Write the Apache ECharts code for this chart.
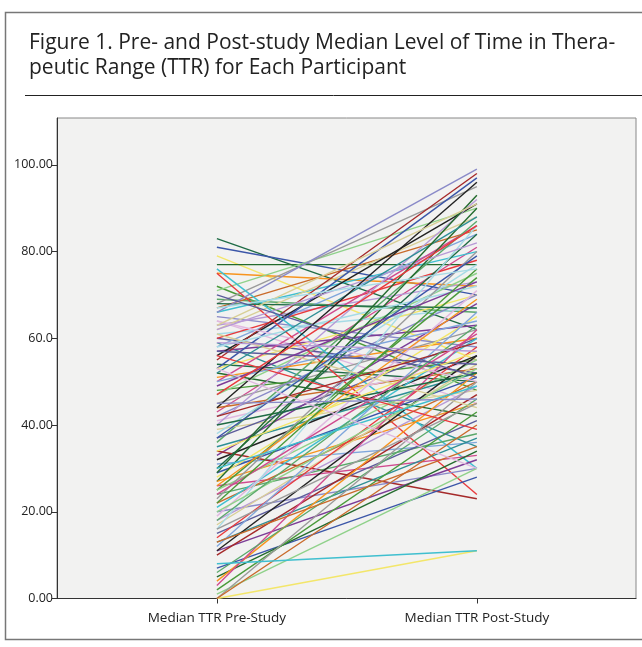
<!DOCTYPE html>
<html>
<head>
<meta charset="utf-8">
<script src="https://cdn.jsdelivr.net/npm/echarts@6/dist/echarts.min.js"></script>
<style>
html,body{margin:0;padding:0;background:#fff;}
#chart{width:642px;height:647px;}
</style>
</head>
<body>
<div id="chart"></div>
<script>
const categories = ['Median TTR Pre-Study', 'Median TTR Post-Study'];
const yTicks = [0, 20, 40, 60, 80, 100];
const yTickLabels = ['0.00', '20.00', '40.00', '60.0', '80.00', '100.00'];

const preStudy = [
  83, 81, 79, 77, 75, 43, 72, 71, 69, 68,
  67, 66, 65, 64, 63, 62, 61, 60, 60, 59,
  58, 57, 56, 55, 54, 53, 53, 52, 51, 50,
  48, 47, 36, 45, 44, 76, 42, 41, 40, 39,
  38, 37, 75, 35, 31, 33, 32, 34, 30, 29,
  28, 27, 27, 26, 25, 25, 24, 23, 22, 21,
  20, 19, 18, 17, 16, 15, 14, 13, 12, 11,
  11, 10, 68, 7, 0, 5, 4, 3, 2, 1,
  6, 0, 0, 8, 66, 64, 62, 61, 58, 57,
  56, 52, 50, 49, 44, 42, 40, 37, 34, 29,
  26, 24, 22, 20, 18, 16, 13, 30, 45, 53,
  59, 63, 67, 70, 47
];
const postStudy = [
  62, 70, 55, 77, 72, 81, 48, 90, 66, 95,
  85, 80, 58, 45, 73, 88, 67, 52, 78, 35,
  84, 63, 91, 98, 50, 97, 70, 42, 60, 86,
  55, 75, 87, 62, 53, 30, 70, 55, 92, 48,
  77, 60, 24, 52, 36, 68, 56, 23, 84, 51,
  65, 90, 45, 33, 74, 55, 38, 80, 50, 60,
  30, 71, 49, 54, 86, 41, 58, 37, 66, 32,
  56, 47, 67, 28, 11, 34, 52, 62, 43, 30,
  46, 50, 40, 11, 99, 50, 82, 44, 72, 54,
  39, 88, 64, 73, 96, 59, 52, 79, 57, 93,
  69, 61, 76, 53, 63, 45, 35, 49, 46, 30,
  57, 91, 76, 51, 86
];

const palette = [
  '#1e6b45', '#8fd18a', '#b79ad6', '#7c3c96', '#f7941d', '#3fbfcf', '#e8393c',
  '#3b56a8', '#5aa86a', '#d8cf96', '#222222', '#d04a8e', '#8a8ac8', '#2e8f95',
  '#f3e66a', '#9a9a9a', '#a6dbe6', '#a52a2a', '#4a9a3a', '#e0b8e0', '#7fa6dc',
  '#246b2e', '#c96a2a', '#5b5b9b'
];

const series = preStudy.map((pre, i) => ({
  type: 'line',
  symbol: 'none',
  silent: true,
  animation: false,
  lineStyle: { width: 1.4, color: palette[(i * 7) % palette.length] },
  data: [[0, pre], [1, postStudy[i]]]
}));

const chart = echarts.init(document.getElementById('chart'), null, { renderer: 'canvas' });
chart.setOption({
  animation: false,
  backgroundColor: '#ffffff',
  title: {
    text: 'Figure 1. Pre- and Post-study Median Level of Time in Thera-\npeutic Range (TTR) for Each Participant',
    left: 24,
    top: 26,
    textStyle: {
      fontFamily: 'Open Sans',
      fontWeight: 'normal',
      fontSize: 21,
      lineHeight: 25,
      color: '#222'
    }
  },
  graphic: [
    { type: 'rect', shape: { x: 5.5, y: 12.5, width: 660, height: 627 }, style: { fill: 'none', stroke: '#777', lineWidth: 1.5 }, silent: true },
    { type: 'line', shape: { x1: 25, y1: 95.5, x2: 642, y2: 95.5 }, style: { stroke: '#222', lineWidth: 1 }, silent: true }
  ],
  grid: {
    left: 57, right: 6, top: 118, bottom: 48.5,
    show: true,
    backgroundColor: '#f2f2f1',
    borderColor: '#888',
    borderWidth: 1
  },
  xAxis: {
    type: 'value',
    min: -0.615,
    max: 1.612,
    splitLine: { show: false },
    axisLine: { onZero: false, lineStyle: { color: '#333', width: 1 } },
    axisTick: { show: true, customValues: [0, 1], length: 5, lineStyle: { color: '#333' } },
    axisLabel: {
      customValues: [0, 1],
      formatter: v => categories[Math.round(v)] || '',
      margin: 13,
      fontFamily: 'Open Sans',
      fontSize: 13.5,
      color: '#222'
    }
  },
  yAxis: {
    type: 'value',
    min: 0,
    max: 110.8,
    splitLine: { show: false },
    axisLine: { show: true, onZero: false, lineStyle: { color: '#333', width: 1 } },
    axisTick: { show: true, customValues: yTicks, length: 5, lineStyle: { color: '#333' } },
    axisLabel: {
      customValues: yTicks,
      formatter: v => yTickLabels[yTicks.indexOf(Math.round(v))] || '',
      margin: 4,
      fontFamily: 'Open Sans',
      fontSize: 12.5,
      color: '#222'
    }
  },
  series: series
});
</script>
</body>
</html>
